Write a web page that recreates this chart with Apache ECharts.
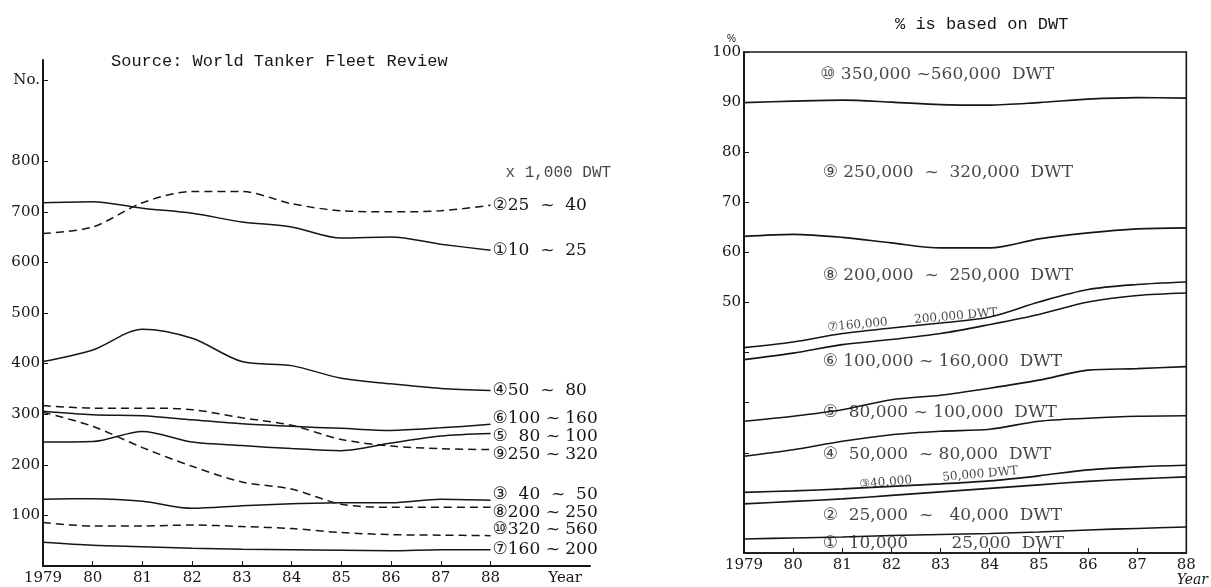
<!DOCTYPE html>
<html>
<head>
<meta charset="utf-8">
<script src="https://cdn.jsdelivr.net/npm/echarts@6/dist/echarts.min.js"></script>
<style>
html, body { margin: 0; padding: 0; background: #fff; }
#tankerFleet { width: 1211px; height: 587px; }
</style>
</head>
<body>
<div id="tankerFleet"></div>
<script>
const years = [1979, 1980, 1981, 1982, 1983, 1984, 1985, 1986, 1987, 1988]
const leftYearTicks = [1979, 1980, 1981, 1982, 1983, 1984, 1985, 1986, 1987, 1988]
const leftNoTicks = [100, 200, 300, 400, 500, 600, 700, 800]
const rightPctTicks = [50, 60, 70, 80, 90, 100]

// number of tankers, by size class (x 1,000 DWT)
const n10_25 = [718, 720, 707, 697, 680, 670, 648, 650, 636, 624]
const n25_40 = [657, 670, 718, 740, 740, 716, 702, 700, 702, 713]
const n40_50 = [132, 133, 128, 114, 119, 123, 125, 125, 132, 130]
const n50_80 = [404, 427, 468, 450, 404, 396, 371, 360, 351, 347]
const n80_100 = [245, 246, 266, 245, 238, 232, 228, 243, 257, 262]
const n100_160 = [306, 299, 297, 289, 281, 276, 272, 268, 273, 280]
const n160_200 = [47, 41, 38, 35, 33, 32, 31, 30, 32, 32]
const n200_250 = [304, 276, 234, 197, 166, 152, 122, 116, 116, 116]
const n250_320 = [317, 312, 312, 309, 293, 278, 250, 237, 232, 230]
const n320_560 = [86, 79, 79, 81, 78, 74, 66, 62, 61, 60]

// share of DWT, cumulative upper edge of each class (%)
const cum1 = [2.8, 3.0, 3.2, 3.5, 3.7, 3.9, 4.2, 4.6, 4.9, 5.2]
const cum2 = [9.8, 10.3, 10.8, 11.5, 12.2, 12.9, 13.6, 14.3, 14.8, 15.2]
const cum3 = [12.1, 12.4, 12.8, 13.3, 13.8, 14.4, 15.4, 16.6, 17.2, 17.5]
const cum4 = [19.3, 20.6, 22.3, 23.6, 24.3, 24.7, 26.3, 26.9, 27.3, 27.4]
const cum5 = [26.3, 27.3, 28.6, 30.6, 31.5, 32.9, 34.5, 36.5, 36.8, 37.2]
const cum6 = [38.6, 39.9, 41.6, 42.6, 43.8, 45.6, 47.6, 50.1, 51.4, 51.9]
const cum7 = [41.0, 42.1, 43.8, 44.9, 45.9, 47.1, 50.1, 52.6, 53.6, 54.1]
const cum8 = [63.2, 63.6, 63.0, 61.9, 60.9, 60.9, 62.7, 63.9, 64.7, 64.9]
const cum9 = [89.9, 90.2, 90.4, 90.0, 89.5, 89.4, 89.9, 90.6, 90.9, 90.8]

const ink = '#161616'
const serif = 'DejaVu Serif, DejaVu Sans'
const mono = 'Liberation Mono, DejaVu Sans Mono'

const leftLines = [
  { text: '①10  ~  25', data: n10_25, dashed: false, dy: 0 },
  { text: '②25  ~  40', data: n25_40, dashed: true, dy: 0 },
  { text: '③  40  ~  50', data: n40_50, dashed: false, dy: -6 },
  { text: '④50  ~  80', data: n50_80, dashed: false, dy: 0 },
  { text: '⑤  80 ~ 100', data: n80_100, dashed: false, dy: 3 },
  { text: '⑥100 ~ 160', data: n100_160, dashed: false, dy: -6 },
  { text: '⑦160 ~ 200', data: n160_200, dashed: false, dy: 0 },
  { text: '⑧200 ~ 250', data: n200_250, dashed: true, dy: 5 },
  { text: '⑨250 ~ 320', data: n250_320, dashed: true, dy: 5 },
  { text: '⑩320 ~ 560', data: n320_560, dashed: true, dy: -6 },
]
const rightLines = [cum1, cum2, cum3, cum4, cum5, cum6, cum7, cum8, cum9]

// class names written inside the right panel: [text, year, percent]
const rightNotes = [
  ['⑩ 350,000 ~560,000  DWT', 1980.55, 95.4],
  ['⑨ 250,000  ~  320,000  DWT', 1980.6, 76],
  ['⑧ 200,000  ~  250,000  DWT', 1980.6, 55.4],
  ['⑥ 100,000 ~ 160,000  DWT', 1980.6, 38.3],
  ['⑤  80,000 ~ 100,000  DWT', 1980.6, 28],
  ['④  50,000  ~ 80,000  DWT', 1980.6, 19.6],
  ['②  25,000  ~   40,000  DWT', 1980.6, 7.5],
  ['①  10,000        25,000  DWT', 1980.6, 1.8],
]
const smallNotes = [
  ['⑦160,000       200,000 DWT', 1980.7, 45.0],
  ['③40,000        50,000 DWT', 1981.35, 13.6],
]

const yearText = v => (v === 1979 ? '1979' : String(v).slice(2))

const series = []
leftLines.forEach(l => {
  series.push({
    type: 'line',
    xAxisIndex: 0,
    yAxisIndex: 0,
    data: years.map((y, i) => [y, l.data[i]]),
    symbol: 'none',
    smooth: 0.3,
    silent: true,
    lineStyle: { color: ink, width: 1.5, type: l.dashed ? [8, 5] : 'solid' },
    endLabel: {
      show: true,
      formatter: l.text,
      color: ink,
      fontFamily: serif,
      fontSize: 17,
      distance: 2,
      offset: [0, l.dy],
    },
  })
})
rightLines.forEach(d => {
  series.push({
    type: 'line',
    xAxisIndex: 1,
    yAxisIndex: 1,
    data: years.map((y, i) => [y, d[i]]),
    symbol: 'none',
    smooth: 0.3,
    silent: true,
    lineStyle: { color: ink, width: 1.6 },
  })
})
series.push({
  type: 'scatter',
  xAxisIndex: 1,
  yAxisIndex: 1,
  symbolSize: 0,
  silent: true,
  clip: false,
  data: rightNotes.map(n => ({ value: [n[1], n[2]], name: n[0] })),
  label: {
    show: true,
    position: 'right',
    distance: 0,
    formatter: p => p.name,
    color: ink,
    fontFamily: serif,
    fontSize: 17,
  },
})
series.push({
  type: 'scatter',
  xAxisIndex: 1,
  yAxisIndex: 1,
  symbolSize: 0,
  silent: true,
  clip: false,
  data: smallNotes.map(n => ({ value: [n[1], n[2]], name: n[0] })),
  label: {
    show: true,
    position: 'right',
    distance: 0,
    rotate: 5,
    formatter: p => p.name,
    color: ink,
    fontFamily: serif,
    fontSize: 12,
  },
})
series.push({
  type: 'scatter',
  xAxisIndex: 0,
  yAxisIndex: 0,
  symbolSize: 0,
  silent: true,
  clip: false,
  data: [{ value: [1988.3, 777], name: 'x 1,000 DWT' }],
  label: {
    show: true,
    position: 'right',
    distance: 0,
    formatter: p => p.name,
    color: ink,
    fontFamily: mono,
    fontSize: 16,
  },
})

const option = {
  animation: false,
  backgroundColor: '#fff',
  title: [
    {
      text: 'Source: World Tanker Fleet Review',
      left: 106,
      top: 48,
      textStyle: { fontFamily: mono, fontSize: 17, fontWeight: 'normal', color: ink },
    },
    {
      text: '% is based on DWT',
      left: 890,
      top: 11,
      textStyle: { fontFamily: mono, fontSize: 17, fontWeight: 'normal', color: ink },
    },
  ],
  grid: [
    { left: 43, top: 60, width: 547, height: 506 },
    { left: 744, top: 52, width: 448, height: 504, show: true, borderColor: ink, borderWidth: 1.6, backgroundColor: 'transparent' },
  ],
  xAxis: [
    {
      gridIndex: 0,
      type: 'value',
      min: 1979,
      max: 1990,
      interval: 1,
      axisLine: { lineStyle: { color: ink, width: 2 } },
      axisTick: { inside: true, length: 5, customValues: leftYearTicks.slice(1), lineStyle: { color: ink } },
      axisLabel: {
        customValues: leftYearTicks.concat([1989.5]),
        formatter: v => (v === 1989.5 ? 'Year' : yearText(v)),
        color: ink,
        fontFamily: serif,
        fontSize: 15,
        margin: 5,
      },
      splitLine: { show: false },
    },
    {
      gridIndex: 1,
      type: 'value',
      min: 1979,
      max: 1988,
      interval: 1,
      axisLine: { lineStyle: { color: ink, width: 1.6 } },
      axisTick: { inside: true, length: 5, lineStyle: { color: ink } },
      axisLabel: {
        customValues: years,
        formatter: v => (v === 1988 ? '88\n{y|Year}' : yearText(v)),
        color: ink,
        fontFamily: serif,
        fontSize: 15,
        margin: 5,
        rich: { y: { fontFamily: serif, fontSize: 14, fontStyle: 'italic', color: ink, padding: [0, 0, 0, 12] } },
      },
      splitLine: { show: false },
    },
  ],
  yAxis: [
    {
      gridIndex: 0,
      type: 'value',
      min: 0,
      max: 1000,
      interval: 100,
      axisLine: { show: true, lineStyle: { color: ink, width: 2 } },
      axisTick: { show: true, inside: true, length: 5, customValues: leftNoTicks.concat([960]), lineStyle: { color: ink } },
      axisLabel: {
        customValues: leftNoTicks.concat([960]),
        formatter: v => (v === 960 ? 'No.' : String(v)),
        color: ink,
        fontFamily: serif,
        fontSize: 15,
        margin: 3,
      },
      splitLine: { show: false },
    },
    {
      gridIndex: 1,
      type: 'value',
      min: 0,
      max: 100,
      interval: 10,
      name: '%',
      nameGap: 8,
      nameTextStyle: { fontSize: 10, color: ink, align: 'right', padding: [0, 8, 0, 0] },
      axisLine: { show: true, lineStyle: { color: ink, width: 2 } },
      axisTick: { show: true, inside: true, length: 5, lineStyle: { color: ink } },
      axisLabel: {
        customValues: rightPctTicks,
        color: ink,
        fontFamily: serif,
        fontSize: 15,
        margin: 3,
      },
      splitLine: { show: false },
    },
  ],
  series: series,
}

const chart = echarts.init(document.getElementById('tankerFleet'))
chart.setOption(option)
window.addEventListener('resize', function () {
  chart.resize()
})
</script>
</body>
</html>
